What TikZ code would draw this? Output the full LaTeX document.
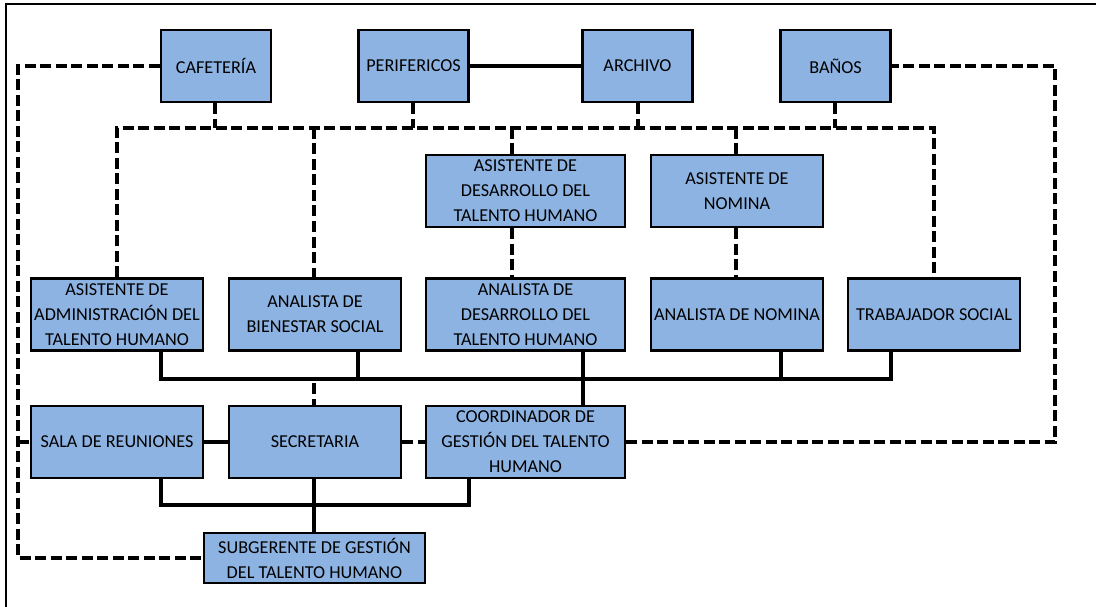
\documentclass[tikz,border=0pt]{standalone}
\usepackage{fontspec}
\setmainfont{Carlito}
\definecolor{boxblue}{HTML}{8DB3E2}
\tikzset{
  orgbox/.style={draw=black, line width=2.3pt, fill=boxblue, inner sep=0pt, align=center,
    font=\fontsize{18.2}{25}\selectfont, text=black},
  topbox/.style={orgbox, minimum width=110pt, minimum height=72pt},
  midbox/.style={orgbox, minimum width=172pt, minimum height=72pt},
  widebox/.style={orgbox, minimum width=199pt, minimum height=72pt},
  solidlink/.style={line width=3.6pt, draw=black},
  dashlink/.style={line width=3.1pt, draw=black, dash pattern=on 11pt off 4.5pt},
}
\begin{document}
\begin{tikzpicture}[x=1pt, y=-1pt]
\useasboundingbox (0,0) rectangle (1096,607);
% frame
\draw[line width=2.3pt] (6,612) -- (6,4) -- (1102,4);

% top row
\node[topbox] (caf) at (216,66) {CAFETERÍA};
\node[topbox] (per) at (413.5,66) {PERIFERICOS};
\node[topbox] (arc) at (637.5,66) {ARCHIVO};
\node[topbox] (ban) at (835.5,66) {BAÑOS};

% second row
\node[widebox] (ades) at (525.5,191) {ASISTENTE DE\\DESARROLLO DEL\\TALENTO HUMANO};
\node[midbox] (anom) at (737,191) {ASISTENTE DE\\NOMINA};

% third row
\node[midbox] (aadm) at (117,314.5) {ASISTENTE DE\\ADMINISTRACIÓN DEL\\TALENTO HUMANO};
\node[midbox] (abie) at (315,314.5) {ANALISTA DE\\BIENESTAR SOCIAL};
\node[widebox] (andes) at (525.5,314.5) {ANALISTA DE\\DESARROLLO DEL\\TALENTO HUMANO};
\node[midbox] (annom) at (737,314.5) {ANALISTA DE NOMINA};
\node[midbox] (trab) at (934,314.5) {TRABAJADOR SOCIAL};

% fourth row
\node[midbox] (sala) at (117,442) {SALA DE REUNIONES};
\node[midbox] (secr) at (315,442) {SECRETARIA};
\node[widebox] (coor) at (525.5,442) {COORDINADOR DE\\GESTIÓN DEL TALENTO\\HUMANO};

% bottom
\node[orgbox, minimum width=221pt, minimum height=50pt] (subg) at (314.5,558) {SUBGERENTE DE GESTIÓN\\DEL TALENTO HUMANO};

% junction coordinates
\coordinate (lx) at (18,66);
\coordinate (rx) at (1055,66);
\coordinate (hl) at (117,128);
\coordinate (hr) at (934,128);
\coordinate (d1) at (314,128);
\coordinate (d2) at (512,128);
\coordinate (d3) at (736,128);
\coordinate (bus) at (161,379);
\coordinate (bus2) at (161,505);

% dashed connectors
\draw[dashlink] (caf.west) -- (lx) -- (lx |- subg.west) -- (subg.west);
\draw[dashlink] (lx |- sala.west) -- (sala.west);
\draw[dashlink] (aadm.north) -- (hl) -- (hr) -- (trab.north);
\draw[dashlink] (caf.south -| 215,0) -- (215,128);
\draw[dashlink] (per.south -| 413,0) -- (413,128);
\draw[dashlink] (arc.south -| 638,0) -- (638,128);
\draw[dashlink] (ban.south -| 835,0) -- (835,128);
\draw[dashlink] (d1) -- (d1 |- abie.north);
\draw[dashlink] (d2) -- (d2 |- ades.north);
\draw[dashlink] (d2 |- ades.south) -- (d2 |- andes.north);
\draw[dashlink] (d3) -- (d3 |- anom.north);
\draw[dashlink] (d3 |- anom.south) -- (d3 |- annom.north);
\draw[dashlink] (314,383) -- (314,0 |- secr.north);
\draw[dashlink] (secr.east) -- (coor.west);
\draw[dashlink] (coor.east) -- (rx |- coor.east) -- (rx) -- (ban.east);

% solid connectors
\draw[solidlink] (per.east) -- (arc.west);
\draw[solidlink] (sala.east) -- (secr.west);
\draw[solidlink] (bus |- aadm.south) -- (bus) -- (891,379) -- (891,0 |- trab.south);
\draw[solidlink] (358,0 |- abie.south) -- (358,379);
\draw[solidlink] (583,0 |- andes.south) -- (583,0 |- coor.north);
\draw[solidlink] (781,0 |- annom.south) -- (781,379);
\draw[solidlink] (bus2 |- sala.south) -- (bus2) -- (469,505) -- (469,0 |- coor.south);
\draw[solidlink] (314,0 |- secr.south) -- (314,0 |- subg.north);
\end{tikzpicture}
\end{document}
